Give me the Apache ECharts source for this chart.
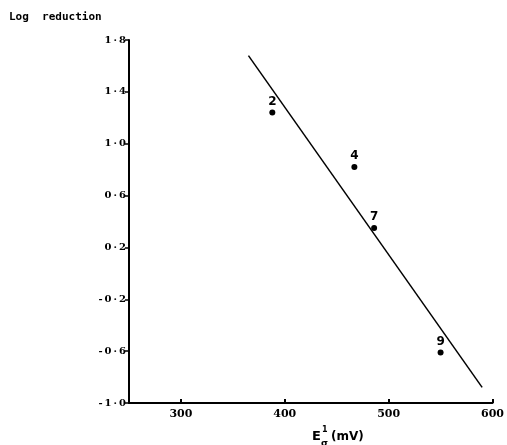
<!DOCTYPE html>
<html>
<head>
<meta charset="utf-8">
<script src="https://cdn.jsdelivr.net/npm/echarts@6/dist/echarts.min.js"></script>
<style>
  html, body { margin: 0; padding: 0; background: #fff; }
  #chart { width: 507px; height: 445px; }
</style>
</head>
<body>
<div id="chart"></div>
<script>
// measured points (potential in mV, log reduction)
const pointNames = ["2", "4", "7", "9"];
const potentials = [388, 467, 486, 550];
const logReductions = [1.24, 0.82, 0.35, -0.61];
// fitted line end points
const lineX = [365, 590];
const lineY = [1.68, -0.88];

const fmtDot = v => {
  const s = (Math.round(v * 10) / 10).toFixed(1);
  return s.replace(".", "\u2009·\u2009").replace("-", "-\u2009");
};

const chart = echarts.init(document.getElementById("chart"));
chart.setOption({
  animation: false,
  backgroundColor: "#fff",
  grid: { left: 129, right: 14, top: 40, bottom: 42 },
  xAxis: {
    type: "value",
    min: 250,
    max: 600,
    splitNumber: 4,
    axisLine: { onZero: false, lineStyle: { color: "#000", width: 2 } },
    axisTick: { inside: true, length: 4, lineStyle: { color: "#000", width: 2 } },
    axisLabel: {
      color: "#000",
      fontFamily: "DejaVu Serif",
      fontWeight: "bold",
      fontSize: 11,
      margin: 6,
      formatter: v => (v % 100 === 0 ? String(v) : "")
    },
    splitLine: { show: false }
  },
  yAxis: {
    type: "value",
    min: -1,
    max: 1.8,
    interval: 0.4,
    axisLine: { show: true, lineStyle: { color: "#000", width: 2 } },
    axisTick: { show: true, length: 4, lineStyle: { color: "#000", width: 1.5 } },
    axisLabel: {
      color: "#000",
      fontFamily: "DejaVu Serif",
      fontWeight: "bold",
      fontSize: 10,
      margin: 3,
      formatter: fmtDot
    },
    splitLine: { show: false }
  },
  graphic: [
    {
      type: "text",
      left: 9,
      top: 12,
      style: {
        text: "Log  reduction",
        font: "bold 11px 'DejaVu Sans Mono'",
        fill: "#000"
      }
    },
    {
      type: "text",
      left: 312,
      top: 430,
      style: {
        text: "E",
        font: "bold 13px 'DejaVu Sans'",
        fill: "#000"
      }
    },
    {
      type: "text",
      left: 322,
      top: 426,
      style: {
        text: "1",
        font: "bold 8px 'DejaVu Sans'",
        fill: "#000"
      }
    },
    {
      type: "text",
      left: 321,
      top: 439,
      style: {
        text: "σ",
        font: "bold 9px 'DejaVu Sans'",
        fill: "#000"
      }
    },
    {
      type: "text",
      left: 331,
      top: 431,
      style: {
        text: "(mV)",
        font: "bold 12px 'DejaVu Sans'",
        fill: "#000"
      }
    }
  ],
  series: [
    {
      type: "line",
      data: lineX.map((x, i) => [x, lineY[i]]),
      symbol: "none",
      lineStyle: { color: "#000", width: 1.5 }
    },
    {
      type: "scatter",
      data: potentials.map((x, i) => ({ value: [x, logReductions[i]], name: pointNames[i] })),
      symbolSize: 6,
      itemStyle: { color: "#000", opacity: 1 },
      label: {
        show: true,
        position: "top",
        distance: 2,
        formatter: p => p.name,
        color: "#000",
        fontFamily: "DejaVu Sans",
        fontWeight: "bold",
        fontSize: 12
      }
    }
  ]
});
</script>
</body>
</html>
